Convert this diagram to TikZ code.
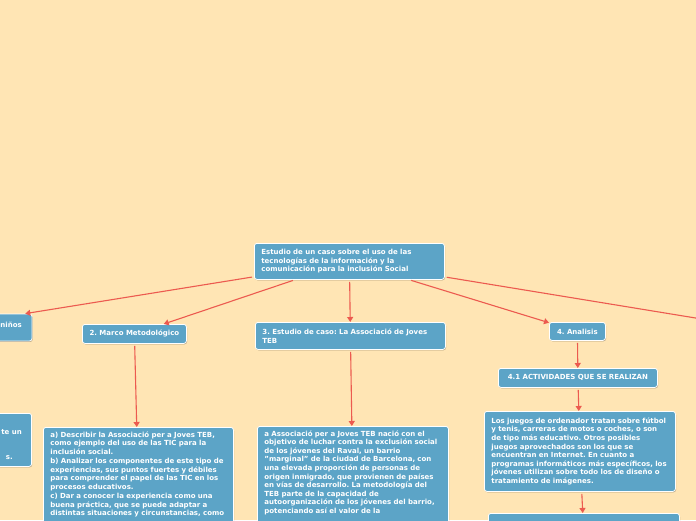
\documentclass[tikz,border=0pt]{standalone}
\usepackage{fontspec}
\setmainfont{DejaVu Sans}
\usetikzlibrary{arrows.meta,shadows}
\definecolor{bg}{HTML}{FFE5B4}
\definecolor{boxblue}{HTML}{5CA4C7}
\definecolor{linkred}{HTML}{EC5A4F}
\frenchspacing
\begin{document}
\begin{tikzpicture}[x=1pt,y=-1pt,
  boxfont/.style={text=white, font=\fontsize{7}{8.6}\selectfont\bfseries},
  box/.style={boxfont, draw=white, line width=0.8pt, fill=boxblue, rounded corners=2.5pt,
    drop shadow={shadow xshift=0.6pt, shadow yshift=-0.9pt, opacity=0.3, fill=black},
    inner xsep=7pt, inner ysep=4pt, anchor=north west, align=left},
  link/.style={draw=linkred, line width=1.1pt, -{Triangle[length=5pt,width=6pt]}, shorten <=2pt},
]
\useasboundingbox (0,0) rectangle (696,520);
\clip (0,0) rectangle (696,520);
\fill[bg] (0,0) rectangle (696,520);

% root
\node[box, text width=176pt, minimum height=36pt] (root) at (254,243)
  {Estudio de un caso sobre el uso de las\\tecnologías de la información y la\\comunicación para la inclusión Social};

% level 1
\node[box, anchor=center, minimum width=186pt, minimum height=27pt] (n1) at (-61,327.5) {};
\node[boxfont, anchor=base east, inner sep=0pt] (n1t) at (22,327) {niños};
\node[box, align=center, minimum width=104pt, minimum height=19pt] (n2) at (82,324) {2. Marco Metodológico};
\node[box, text width=176pt, minimum height=27pt] (n3) at (255,322) {3. Estudio de caso: La Associació de Joves\\TEB};
\node[box, align=center, minimum width=56pt, minimum height=18pt] (n4) at (549,322) {4. Analisis};
\coordinate (c5) at (720,322);

% left lower box
\node[box, anchor=north east, minimum width=120pt, minimum height=53pt] (nl) at (32,413) {};
\node[boxfont, anchor=base east, inner sep=0pt] (nlt1) at (22,434) {te un};
\node[boxfont, anchor=base east, inner sep=0pt] (nlt2) at (13,459.5) {s.};

% children
\node[box, text width=176pt] (b2) at (43,427)
  {a) Describir la Associació per a Joves TEB,\\como ejemplo del uso de las TIC para la\\inclusión social.\\[0.6pt]
   b) Analizar los componentes de este tipo de\\experiencias, sus puntos fuertes y débiles\\para comprender el papel de las TIC en los\\procesos educativos.\\[0.6pt]
   c) Dar a conocer la experiencia como una\\buena práctica, que se puede adaptar a\\distintas situaciones y circunstancias, como\\[30pt]\mbox{}};
\node[box, text width=177pt] (b3) at (257,426)
  {a Associació per a Joves TEB nació con el\\objetivo de luchar contra la exclusión social\\de los jóvenes del Raval, un barrio\\"marginal" de la ciudad de Barcelona, con\\una elevada proporción de personas de\\origen inmigrado, que provienen de países\\en vías de desarrollo. La metodología del\\TEB parte de la capacidad de\\autoorganización de los jóvenes del barrio,\\potenciando así el valor de la\\[30pt]\mbox{}};

\node[box, align=center, minimum width=159pt, minimum height=19pt] (n41) at (498,368) {4.1 ACTIVIDADES QUE SE REALIZAN};
\node[box, text width=177pt, minimum height=80pt] (b41) at (484,411)
  {Los juegos de ordenador tratan sobre fútbol\\y tenis, carreras de motos o coches, o son\\de tipo más educativo. Otros posibles\\juegos aprovechados son los que se\\encuentran en Internet. En cuanto a\\programas informáticos más específicos, los\\jóvenes utilizan sobre todo los de diseño o\\tratamiento de imágenes.};
\node[box, text width=177pt, minimum height=50pt] (b5) at (488,513) {};

% connectors
\draw[link] (root) -- (n1);
\draw[link] (root) -- (n2);
\draw[link] (root) -- (n3);
\draw[link] (root) -- (n4);
\draw[link, -] (root) -- (c5);
\draw[link] (n2) -- (b2);
\draw[link] (n3) -- (b3);
\draw[link] (n4) -- (n41);
\draw[link] (n41) -- (b41);
\draw[link] (b41) -- (b5);
\end{tikzpicture}
\end{document}
